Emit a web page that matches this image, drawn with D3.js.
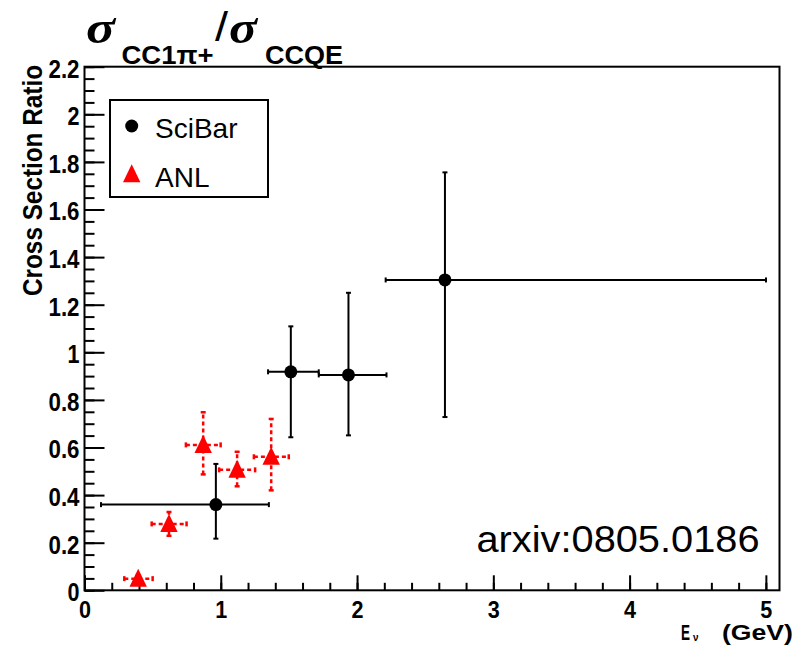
<!DOCTYPE html>
<html>
<head>
<meta charset="utf-8">
<script src="https://cdn.jsdelivr.net/npm/d3@7"></script>
<style>
  html, body { margin: 0; padding: 0; background: #fff; }
  svg { display: block; font-family: "Liberation Sans", Arial, Helvetica, sans-serif; }
</style>
</head>
<body>
<svg id="chart" width="795" height="645"></svg>
<script>
// ---- data ----
const sciBarE        = [0.964, 1.514, 1.937, 2.645];
const sciBarELow     = [0.121, 1.347, 1.719, 2.210];
const sciBarEHigh    = [1.353, 1.719, 2.216, 5.001];
const sciBarRatio    = [0.360, 0.918, 0.905, 1.304];
const sciBarRatioLow = [0.217, 0.643, 0.651, 0.728];
const sciBarRatioHigh= [0.531, 1.109, 1.250, 1.756];

const anlE        = [0.394, 0.620, 0.871, 1.120, 1.370];
const anlELow     = [0.292, 0.493, 0.744, 0.988, 1.243];
const anlEHigh    = [0.500, 0.749, 0.999, 1.252, 1.499];
const anlRatio    = [0.049, 0.279, 0.611, 0.506, 0.561];
const anlRatioLow = [0.035, 0.229, 0.487, 0.437, 0.420];
const anlRatioHigh= [0.063, 0.329, 0.748, 0.582, 0.720];

const xMajorTicks = [0, 1, 2, 3, 4, 5];
const yMajorTicks = [0, 0.2, 0.4, 0.6, 0.8, 1, 1.2, 1.4, 1.6, 1.8, 2, 2.2];
const xDomain = [0, 5.1];
const yDomain = [0, 2.2];
const legendLabels = ["SciBar", "ANL"];

// ---- layout ----
const svg = d3.select("#chart");
const x = d3.scaleLinear().domain(xDomain).range([84.5, 779.5]);
const y = d3.scaleLinear().domain(yDomain).range([590.3, 66.7]);
const fmt = d3.format("~g");
const BOLD = "'Liberation Sans', Arial, sans-serif";

// frame
svg.append("rect")
  .attr("x", x(xDomain[0])).attr("y", y(yDomain[1]))
  .attr("width", x(xDomain[1]) - x(xDomain[0]))
  .attr("height", y(yDomain[0]) - y(yDomain[1]))
  .attr("fill", "none").attr("stroke", "#000").attr("stroke-width", 2);

// minor ticks
const xMinor = d3.range(0, 26).map(i => +(i * 0.2).toFixed(2)).filter(v => v <= 5.1);
const yMinor = d3.range(0, 45).map(i => +(i * 0.05).toFixed(2));

const gxMinor = svg.append("g").attr("transform", `translate(0,${y(0)})`)
  .call(d3.axisBottom(x).tickValues(xMinor).tickSize(-7.5).tickFormat(""));
const gyMinor = svg.append("g").attr("transform", `translate(${x(0)},0)`)
  .call(d3.axisLeft(y).tickValues(yMinor).tickSize(-10).tickFormat(""));

const gx = svg.append("g").attr("transform", `translate(0,${y(0)})`)
  .call(d3.axisBottom(x).tickValues(xMajorTicks).tickSize(-15).tickPadding(15).tickFormat(fmt));
const gy = svg.append("g").attr("transform", `translate(${x(0)},0)`)
  .call(d3.axisLeft(y).tickValues(yMajorTicks).tickSize(-20).tickPadding(5).tickFormat(fmt));

[gxMinor, gyMinor, gx, gy].forEach(g => {
  g.attr("font-size", null).attr("font-family", null);
  g.select(".domain").remove();
  g.selectAll(".tick line").attr("stroke", "#000").attr("stroke-width", 2);
});
[gx, gy].forEach(g => {
  g.selectAll(".tick text")
    .attr("fill", "#000")
    .attr("font-family", BOLD)
    .attr("font-size", 26).attr("font-weight", "bold")
    .attr("textLength", d => fmt(d).length > 1 ? 31 : 12)
    .attr("lengthAdjust", "spacingAndGlyphs");
});
gy.selectAll(".tick text").attr("dy", "0.4em");
gx.selectAll(".tick text").attr("font-size", 24).attr("dy", "0.55em");

// axis titles
svg.append("text")
  .attr("transform", "translate(42,65) rotate(-90)")
  .attr("text-anchor", "end")
  .attr("font-family", BOLD).attr("font-size", 27).attr("font-weight", "bold")
  .attr("textLength", 231).attr("lengthAdjust", "spacingAndGlyphs")
  .text("Cross Section Ratio");

const xt = svg.append("g").attr("font-family", BOLD).attr("font-weight", "bold");
xt.append("text").attr("x", 681).attr("y", 640)
  .attr("font-size", 22)
  .attr("textLength", 9).attr("lengthAdjust", "spacingAndGlyphs").text("E");
xt.append("text").attr("x", 693).attr("y", 641)
  .attr("font-size", 10).attr("textLength", 5.5).attr("lengthAdjust", "spacingAndGlyphs").text("ν");
xt.append("text").attr("x", 722).attr("y", 640)
  .attr("font-size", 22)
  .attr("textLength", 71).attr("lengthAdjust", "spacingAndGlyphs").text("(GeV)");

// title
const tt = svg.append("g");
tt.append("text").attr("x", 86).attr("y", 43)
  .attr("font-family", "'Liberation Serif', 'DejaVu Serif', serif")
  .attr("font-size", 46).attr("font-style", "italic").attr("font-weight", "bold")
  .attr("textLength", 29).attr("lengthAdjust", "spacingAndGlyphs").text("σ");
tt.append("text").attr("x", 121.5).attr("y", 64.3)
  .attr("font-family", BOLD).attr("font-size", 26).attr("font-weight", "bold")
  .attr("textLength", 92).attr("lengthAdjust", "spacingAndGlyphs").text("CC1π+");
tt.append("text").attr("x", 215).attr("y", 41)
  .attr("font-family", BOLD).attr("font-size", 40)
  .attr("textLength", 13).attr("lengthAdjust", "spacingAndGlyphs").text("/");
tt.append("text").attr("x", 229).attr("y", 43)
  .attr("font-family", "'Liberation Serif', 'DejaVu Serif', serif")
  .attr("font-size", 46).attr("font-style", "italic").attr("font-weight", "bold")
  .attr("textLength", 28).attr("lengthAdjust", "spacingAndGlyphs").text("σ");
tt.append("text").attr("x", 265).attr("y", 64.3)
  .attr("font-family", BOLD).attr("font-size", 26).attr("font-weight", "bold")
  .attr("textLength", 78).attr("lengthAdjust", "spacingAndGlyphs").text("CCQE");

// annotation
svg.append("text").attr("x", 476.5).attr("y", 551.7)
  .attr("font-size", 36)
  .attr("textLength", 283).attr("lengthAdjust", "spacingAndGlyphs")
  .text("arxiv:0805.0186");

// ---- data marks ----
function errorBars(g, E, Elo, Ehi, R, Rlo, Rhi, color, dash, width) {
  const idx = d3.range(E.length);
  const cap = 2.5;
  g.selectAll(null).data(idx).join("line")
    .attr("x1", i => x(Elo[i])).attr("x2", i => x(Ehi[i]))
    .attr("y1", i => y(R[i])).attr("y2", i => y(R[i]))
    .attr("stroke", color).attr("stroke-width", width).attr("stroke-dasharray", dash);
  g.selectAll(null).data(idx).join("line")
    .attr("x1", i => x(E[i])).attr("x2", i => x(E[i]))
    .attr("y1", i => y(Rlo[i])).attr("y2", i => y(Rhi[i]))
    .attr("stroke", color).attr("stroke-width", width).attr("stroke-dasharray", dash);
  ["lo", "hi"].forEach(k => {
    g.selectAll(null).data(idx).join("line")
      .attr("x1", i => x(k === "lo" ? Elo[i] : Ehi[i])).attr("x2", i => x(k === "lo" ? Elo[i] : Ehi[i]))
      .attr("y1", i => y(R[i]) - cap).attr("y2", i => y(R[i]) + cap)
      .attr("stroke", color).attr("stroke-width", width);
    g.selectAll(null).data(idx).join("line")
      .attr("y1", i => y(k === "lo" ? Rlo[i] : Rhi[i])).attr("y2", i => y(k === "lo" ? Rlo[i] : Rhi[i]))
      .attr("x1", i => x(E[i]) - cap).attr("x2", i => x(E[i]) + cap)
      .attr("stroke", color).attr("stroke-width", width);
  });
}

const gAnl = svg.append("g");
errorBars(gAnl, anlE, anlELow, anlEHigh, anlRatio, anlRatioLow, anlRatioHigh, "#ff0000", "4,3", 2.5);
const gSci = svg.append("g");
errorBars(gSci, sciBarE, sciBarELow, sciBarEHigh, sciBarRatio, sciBarRatioLow, sciBarRatioHigh, "#000", null, 2);

function triPath(cx, cy) {
  return `M${cx},${cy - 10}L${cx + 8.7},${cy + 8}L${cx - 8.7},${cy + 8}Z`;
}
gAnl.selectAll("path.m").data(d3.range(anlE.length)).join("path")
  .attr("class", "m")
  .attr("d", i => triPath(x(anlE[i]), y(anlRatio[i])))
  .attr("fill", "#ff0000");
gSci.selectAll("circle").data(d3.range(sciBarE.length)).join("circle")
  .attr("cx", i => x(sciBarE[i])).attr("cy", i => y(sciBarRatio[i]))
  .attr("r", 6.5).attr("fill", "#000");

// ---- legend ----
const lg = svg.append("g");
lg.append("rect").attr("x", 110).attr("y", 100).attr("width", 158).attr("height", 97)
  .attr("fill", "#fff").attr("stroke", "#000").attr("stroke-width", 2);
lg.append("circle").attr("cx", 131.7).attr("cy", 126).attr("r", 6.5).attr("fill", "#000");
lg.append("path").attr("d", triPath(131.7, 174.3)).attr("fill", "#ff0000");
lg.selectAll("text.l").data(legendLabels).join("text").attr("class", "l")
  .attr("x", 155).attr("y", (d, i) => 138.3 + i * 48.4)
  .attr("font-size", 28)
  .text(d => d);
</script>
</body>
</html>
